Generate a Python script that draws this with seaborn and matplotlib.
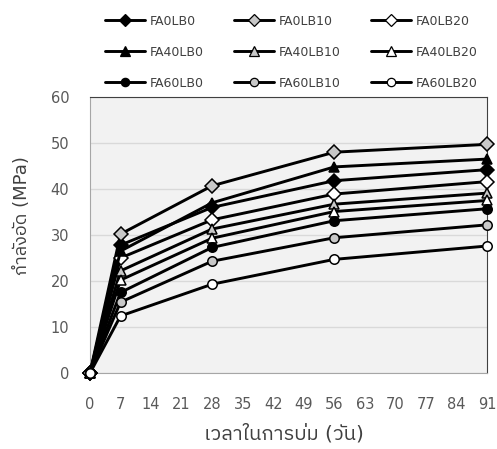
import numpy as np
import pandas as pd
import matplotlib
matplotlib.use("Agg")
import matplotlib.pyplot as plt
import seaborn as sns
from matplotlib import font_manager
from matplotlib.lines import Line2D

# curing age (days)
days = [0, 7, 28, 56, 91]

# compressive strength (MPa)
FA0LB0 = [0, 27.8, 36.0, 41.8, 44.2]
FA0LB10 = [0, 30.2, 40.7, 48.0, 49.7]
FA0LB20 = [0, 25.0, 33.3, 38.9, 41.6]
FA40LB0 = [0, 26.5, 37.0, 44.8, 46.5]
FA40LB10 = [0, 22.2, 31.3, 36.7, 39.1]
FA40LB20 = [0, 20.2, 29.3, 35.1, 37.5]
FA60LB0 = [0, 17.5, 27.3, 33.1, 35.7]
FA60LB10 = [0, 15.4, 24.3, 29.4, 32.2]
FA60LB20 = [0, 12.4, 19.3, 24.7, 27.6]

series_names = ["FA0LB0", "FA0LB10", "FA0LB20",
                "FA40LB0", "FA40LB10", "FA40LB20",
                "FA60LB0", "FA60LB10", "FA60LB20"]
series_vals = [FA0LB0, FA0LB10, FA0LB20,
               FA40LB0, FA40LB10, FA40LB20,
               FA60LB0, FA60LB10, FA60LB20]

markers = ["D", "D", "D", "^", "^", "^", "o", "o", "o"]
faces = ["black", "#c8c8c8", "white"] * 3

x_ticks = list(range(0, 92, 7))
y_ticks = [0, 10, 20, 30, 40, 50, 60]

sns.set_style("white")
thai = [f.name for f in font_manager.fontManager.ttflist
        if any(k in f.name for k in ["Thai", "Tlwg", "Loma", "Garuda", "Kinnari", "Norasi", "Sawasdee", "Umpush", "Waree", "Laksaman", "Purisa"])]
plt.rcParams['font.family'] = ['DejaVu Sans'] + sorted(set(thai))

df = pd.DataFrame({
    "day": days * len(series_names),
    "strength": [v for vals in series_vals for v in vals],
    "mix": [n for n in series_names for _ in days],
})

fig = plt.figure(figsize=(4.97, 4.49), dpi=100)
ax = fig.add_axes([0.1811, 0.1693, 0.7988, 0.6147])
ax.set_facecolor("#f2f2f2")

for name, mk, fc in zip(series_names, markers, faces):
    sub = df[df["mix"] == name]
    ms = 6.8 if mk != "^" else 7.5
    sns.lineplot(data=sub, x="day", y="strength", ax=ax, color="black", linewidth=2.1,
                 marker=mk, markersize=ms, markerfacecolor=fc, markeredgecolor="black",
                 markeredgewidth=1.1, label=name, legend=False, clip_on=False, zorder=3)

ax.set_xlim(0, 91)
ax.set_ylim(0, 60)
ax.set_xticks(x_ticks)
ax.set_yticks(y_ticks)
ax.grid(axis="y", color="#d9d9d9", linewidth=1)
ax.set_axisbelow(True)
for s in ["left", "bottom"]:
    ax.spines[s].set_color("#a6a6a6")
for s in ["top", "right"]:
    ax.spines[s].set_color("#404040")
ax.tick_params(axis="both", labelsize=10.5, labelcolor="#595959", color="#a6a6a6", direction="out")
ax.tick_params(axis="x", length=3, pad=14.5)
ax.tick_params(axis="y", length=5, pad=10)
ax.set_xlabel("เวลาในการบ่ม (วัน)", fontsize=14.5, color="#404040")
ax.set_ylabel("กำลังอัด (MPa)", fontsize=13, color="#404040")
ax.xaxis.set_label_coords(0.489, -0.185)
ax.yaxis.set_label_coords(-0.149, 0.569)

# legend laid out row-wise: 3 columns
order = [0, 3, 6, 1, 4, 7, 2, 5, 8]
handles = [Line2D([], [], color="black", linewidth=2.1, marker=markers[i],
                  markersize=6 if markers[i] != "^" else 6.5,
                  markerfacecolor=faces[i], markeredgecolor="black", markeredgewidth=0.9)
           for i in order]
labels = [series_names[i] for i in order]
fig.legend(handles, labels, ncol=3, loc="upper left", bbox_to_anchor=(0.211, 0.967),
           frameon=False, fontsize=9, handlelength=3.2, columnspacing=2.4,
           labelspacing=1.44, handletextpad=0.4, borderpad=0, borderaxespad=0,
           labelcolor="#404040")

fig.savefig("out.png", dpi=100)
